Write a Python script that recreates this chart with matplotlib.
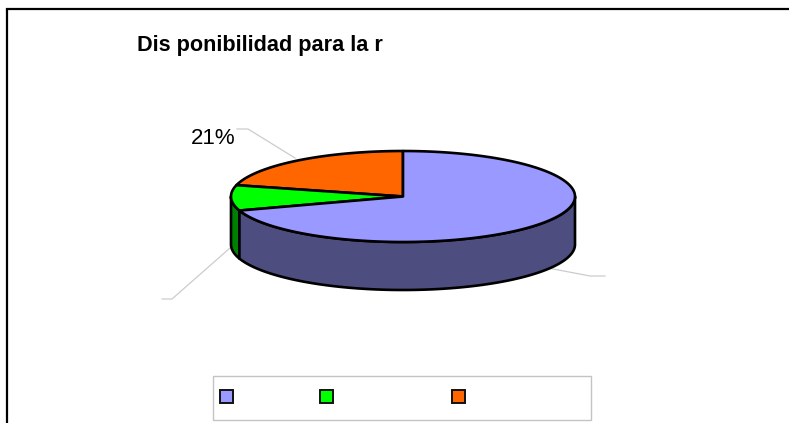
import numpy as np
import matplotlib
matplotlib.use("Agg")
import matplotlib.pyplot as plt
from matplotlib.patches import Rectangle

# Data
slice_names = ["A", "B", "C"]  # the category names are not visible in the reference
slice_values = [70, 9, 21]
top_colors = ["#9999FF", "#00FF00", "#FF6600"]
side_colors = ["#4D4D80", "#008000", "#803300"]
title_text = "Dis ponibilidad para la r"
shown_label = 2  # only the 21% label is visible

W, H = 789, 423
fig = plt.figure(figsize=(W / 100, H / 100), dpi=100, facecolor="white")
ax = fig.add_axes([0, 0, 1, 1])
ax.set_xlim(0, W)
ax.set_ylim(H, 0)
ax.axis("off")

cx, cy, rx, ry, depth = 403, 196.5, 172, 45.5, 48
LW = 1.9

# Slice angles (screen ellipse parameter) from the values: C, B, A counter-clockwise from the top
order = [2, 1, 0]
angles = {}
start = 90.0
for i in order:
    sweep = slice_values[i] / sum(slice_values) * 360
    angles[i] = (start, start + sweep)
    start += sweep


def pt(t):
    t = np.radians(t)
    return cx + rx * np.cos(t), cy - ry * np.sin(t)


# Side wall: only the front half (180..360 degrees) can be seen
for i in order:
    a, b = angles[i]
    lo, hi = max(a, 180), min(b, 360)
    if hi <= lo:
        continue
    t = np.linspace(lo, hi, 120)
    x, y = pt(t)
    ax.fill(np.r_[x, x[::-1]], np.r_[y, y[::-1] + depth],
            facecolor=side_colors[i], edgecolor="black", lw=LW, joinstyle="round", zorder=2)

# Top surface
for i in order:
    a, b = angles[i]
    t = np.linspace(a, b, 240)
    x, y = pt(t)
    ax.fill(np.r_[cx, x], np.r_[cy, y],
            facecolor=top_colors[i], edgecolor="black", lw=LW, joinstyle="round", zorder=3)

# Leader lines
leader = "#CCCCCC"
ax.plot([237, 248, 295], [129, 129, 158], color=leader, lw=0.9, zorder=1)
ax.plot([162, 172, 230], [299, 299, 248], color=leader, lw=0.9, zorder=1)
ax.plot([548, 590, 605], [268, 276, 276], color=leader, lw=0.9, zorder=1)

# Visible data label
ax.text(213, 138.5, f"{slice_values[shown_label]}%", fontsize=16, family="Liberation Sans",
        ha="center", va="center", color="black")

# Title, clipped in the reference after the "r"
ax.text(137, 45.5, title_text, fontsize=15.6, family="Liberation Sans", fontweight="bold",
        ha="left", va="center", color="black")

# Outer frame, its right and bottom sides lie outside the picture
ax.plot([7, 7], [H, 9], color="black", lw=1.6, solid_capstyle="butt", zorder=5)
ax.plot([7, W], [9, 9], color="black", lw=1.6, solid_capstyle="projecting", zorder=5)

# Legend box, with swatches only: its labels cannot be seen
ax.add_patch(Rectangle((213, 376), 378, 44, facecolor="white", edgecolor="#C4C4C4", lw=1.0, zorder=2))
for i, xpos in zip(range(3), [220.5, 320.5, 452.5]):
    ax.add_patch(Rectangle((xpos + 0.6, 390.5), 13, 13, facecolor=top_colors[i], edgecolor="none", zorder=3))
    ax.add_patch(Rectangle((xpos, 390), 13, 13, facecolor=top_colors[i], edgecolor="#111111", lw=1.4, zorder=4))

fig.savefig("out.png", dpi=100, facecolor="white")
